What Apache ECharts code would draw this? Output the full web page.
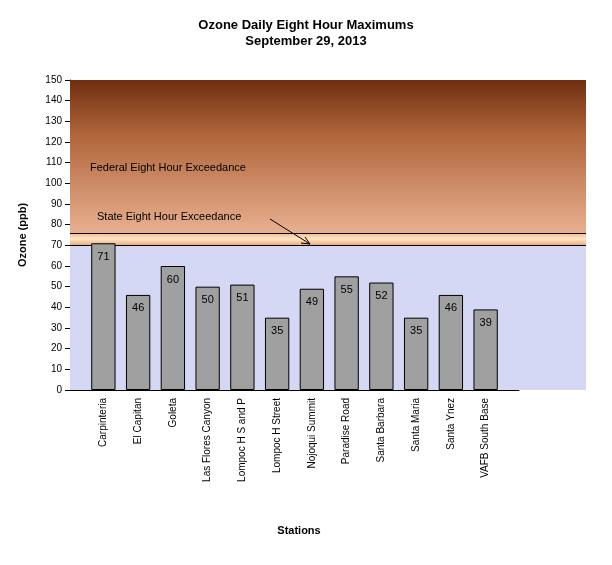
<!DOCTYPE html><html><head><meta charset="utf-8">
<script src="https://cdn.jsdelivr.net/npm/echarts@6/dist/echarts.min.js"></script>
<style>body{margin:0}#c{width:612px;height:565px}</style></head><body><div id="c"></div>
<script>
const stations=['Carpinteria','El Capitan','Goleta','Las Flores Canyon','Lompoc H S and P','Lompoc H Street','Nojoqui Summit','Paradise Road','Santa Barbara','Santa Maria','Santa Ynez','VAFB South Base'];
const values=[71,46,60,50,51,35,49,55,52,35,46,39];
const stateLimit=70, federalLimit=76;
const chart=echarts.init(document.getElementById('c'));
const F='Arial, Liberation Sans, sans-serif';
const yBase={type:'value',min:0,max:150,interval:10,splitLine:{show:false}};
chart.setOption({
 animation:false,backgroundColor:'#fff',
 title:{text:'Ozone Daily Eight Hour Maximums\nSeptember 29, 2013',left:'center',top:12,textStyle:{fontFamily:F,fontSize:13,fontWeight:'bold',color:'#000',lineHeight:16}},
 grid:[{left:70,right:26,top:80,bottom:175},{left:70,right:93,top:80,bottom:175},{left:86,right:109,top:80,bottom:175}],
 xAxis:[
  {gridIndex:0,type:'value',min:0,max:1,show:false},
  {gridIndex:1,type:'value',min:0,max:1,axisLine:{show:true,onZero:false,lineStyle:{color:'#000'}},axisTick:{show:false},axisLabel:{show:false},splitLine:{show:false}},
  {gridIndex:2,type:'category',data:stations,axisLine:{show:false},axisTick:{show:false},
   axisLabel:{rotate:90,color:'#000',fontFamily:F,fontSize:10,interval:0,margin:8}}
 ],
 yAxis:[
  Object.assign({gridIndex:0,show:false},yBase),
  Object.assign({gridIndex:1,name:'Ozone (ppb)',nameLocation:'middle',nameGap:42,nameTextStyle:{fontFamily:F,fontWeight:'bold',fontSize:11,color:'#000'},
   axisLine:{show:true,lineStyle:{color:'#000'}},axisTick:{show:true,lineStyle:{color:'#000'}},axisLabel:{color:'#000',fontFamily:F,fontSize:10}},yBase),
  Object.assign({gridIndex:2,show:false},yBase)
 ],
 series:[
  {type:'line',xAxisIndex:0,yAxisIndex:0,data:[],z:1,
   markArea:{silent:true,data:[
    [{yAxis:0,itemStyle:{color:'#d4d8f4'}},{yAxis:stateLimit}],
    [{yAxis:stateLimit,itemStyle:{color:new echarts.graphic.LinearGradient(0,0,0,1,[{offset:0,color:'#f3b98a'},{offset:0.5,color:'#fde6c8'},{offset:1,color:'#f0a878'}])}},{yAxis:federalLimit}],
    [{yAxis:federalLimit,itemStyle:{color:new echarts.graphic.LinearGradient(0,0,0,1,[{offset:0,color:'#6e2e10'},{offset:0.35,color:'#b0643a'},{offset:1,color:'#e8b090'}])}},{yAxis:150}]
   ]},
   markLine:{silent:true,symbol:'none',label:{show:false},lineStyle:{color:'#000',type:'solid',width:1},data:[{yAxis:stateLimit},{yAxis:federalLimit}]}},
  {type:'bar',xAxisIndex:2,yAxisIndex:2,data:values,barWidth:'70%',z:5,itemStyle:{color:'#a0a0a0',borderColor:'#000',borderWidth:1},
   label:{show:true,position:'insideTop',color:'#000',fontFamily:F,fontSize:11,distance:8}}
 ],
 graphic:[
  {type:'text',left:90,top:162,z:100,style:{text:'Federal Eight Hour Exceedance',font:'11px '+F,fill:'#000'}},
  {type:'text',left:97,top:211,z:100,style:{text:'State Eight Hour Exceedance',font:'11px '+F,fill:'#000'}},
  {type:'text',x:299,y:531,z:100,style:{text:'Stations',font:'bold 11px '+F,fill:'#000',align:'center',verticalAlign:'middle'}},
  {type:'line',z:100,shape:{x1:270,y1:219,x2:310,y2:244},style:{stroke:'#000',lineWidth:1}},
  {type:'polyline',z:100,shape:{points:[[301,243],[310,244],[305,237]]},style:{stroke:'#000',fill:null,lineWidth:1}}
 ]
});
</script></body></html>
